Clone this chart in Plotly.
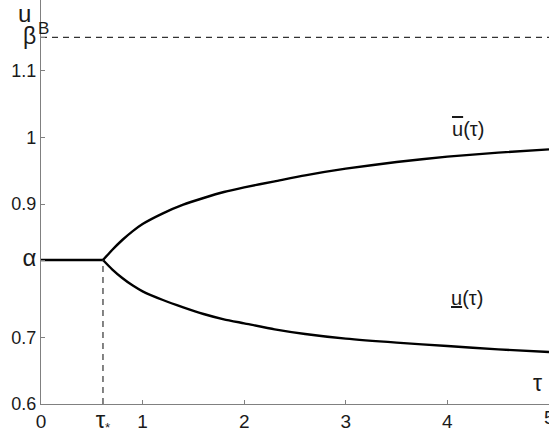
import plotly.graph_objects as go

# Bifurcation diagram: flat branch at alpha until tau_star, then two branches
alpha = 0.816
beta = 1.15
tau_star = 0.61

tau_flat = [0.0, tau_star]
u_flat = [alpha, alpha]

tau_branch = [0.61, 0.70, 0.80, 0.90, 1.00, 1.20, 1.40, 1.60, 1.80, 2.00, 2.30, 2.60,
              3.00, 3.50, 4.00, 4.50, 5.00]
u_upper = [0.816, 0.831, 0.846, 0.859, 0.870, 0.886, 0.899, 0.909, 0.918, 0.925, 0.934,
           0.943, 0.953, 0.963, 0.971, 0.977, 0.982]
u_lower = [0.816, 0.802, 0.789, 0.778, 0.769, 0.756, 0.745, 0.735, 0.727, 0.721, 0.712,
           0.705, 0.698, 0.692, 0.687, 0.682, 0.678]

x_tickvals = [0, tau_star, 1, 2, 3, 4]
x_ticktext = ["0", "<span style='font-size:24px'>τ</span><sub>*</sub>", "1", "2", "3", "4"]
y_tickvals = [0.6, 0.7, alpha, 0.9, 1.0, 1.1, beta]
y_ticktext = ["0.6", "0.7", "<span style='font-size:24px'>α</span>", "0.9", "1", "1.1",
              "<span style='font-size:23px'>β</span>"]

FONT = "Liberation Sans, Arial, sans-serif"
TXT = "#1a1a1a"

fig = go.Figure()
line = dict(color="black", width=2.4)
fig.add_trace(go.Scatter(x=tau_flat, y=u_flat, mode="lines", line=line))
fig.add_trace(go.Scatter(x=tau_branch, y=u_upper, mode="lines", line=dict(line, shape="spline", smoothing=0.6)))
fig.add_trace(go.Scatter(x=tau_branch, y=u_lower, mode="lines", line=dict(line, shape="spline", smoothing=0.6)))

# dashed level beta and dashed drop line at tau_star
fig.add_trace(go.Scatter(x=[0, 5], y=[beta, beta], mode="lines",
                         line=dict(color="#333333", width=1.2, dash="6px,5px")))
fig.add_trace(go.Scatter(x=[tau_star, tau_star], y=[0.6, alpha], mode="lines",
                         line=dict(color="#333333", width=1.2, dash="6px,5px")))

fig.add_annotation(x=4.2, y=1.013, text="<span style='text-decoration:overline'>u</span>(τ)",
                   showarrow=False, font=dict(size=20, color=TXT, family=FONT))
fig.add_annotation(x=4.19, y=0.759, text="<u>u</u>(τ)",
                   showarrow=False, font=dict(size=20, color=TXT, family=FONT))
fig.add_annotation(x=4.89, y=0.631, text="τ",
                   showarrow=False, font=dict(size=23, color=TXT, family=FONT))
# last x tick label sits on the right edge of the figure
fig.add_annotation(x=5, y=0.6, yanchor="top", yshift=-1, text="5",
                   showarrow=False, font=dict(size=19, color=TXT, family=FONT))
fig.add_annotation(xref="paper", x=-0.05, y=1.186, text="u",
                   showarrow=False, font=dict(size=24, color=TXT, family=FONT))
fig.add_annotation(xref="paper", x=-0.01, y=1.163, text="B",
                   showarrow=False, font=dict(size=17, color=TXT, family=FONT))

fig.update_layout(
    width=549, height=435,
    margin=dict(l=41, r=0, t=0, b=31),
    plot_bgcolor="white", paper_bgcolor="white",
    showlegend=False,
    font=dict(family=FONT, size=18, color=TXT),
)
fig.update_xaxes(
    range=[0, 5], tickmode="array", tickvals=x_tickvals, ticktext=x_ticktext,
    showgrid=False, zeroline=False, showline=True, linecolor="#808080", linewidth=1.2,
    ticks="inside", ticklen=4, tickcolor="#808080",
    tickfont=dict(size=19, color=TXT),
)
fig.update_yaxes(
    range=[0.6, 1.206], tickmode="array", tickvals=y_tickvals, ticktext=y_ticktext,
    showgrid=False, zeroline=False, showline=True, linecolor="#808080", linewidth=1.2,
    ticks="inside", ticklen=4, tickcolor="#808080",
    tickfont=dict(size=18, color=TXT),
)

fig.write_html("out.html")
